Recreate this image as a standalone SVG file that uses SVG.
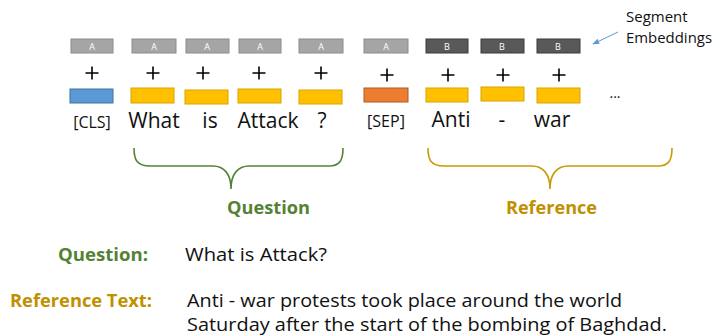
<svg xmlns="http://www.w3.org/2000/svg" width="713" height="335" viewBox="0 0 713 335">
<defs>
<style>
.segA{fill:#A5A5A5;stroke:#8C8C8C;stroke-width:1}
.segB{fill:#595959;stroke:#3A3A3A;stroke-width:1}
.segt{font-family:"Open Sans","DejaVu Sans",sans-serif;font-size:9px;fill:#fff;text-anchor:middle}
.plus{stroke:#000;stroke-width:1.6}
.tokY{fill:#FFC000;stroke:#D9A400;stroke-width:1}
.tokB{fill:#5B9BD5;stroke:#41719C;stroke-width:1}
.tokO{fill:#ED7D31;stroke:#AE5A21;stroke-width:1}
.lab{font-family:"Open Sans","DejaVu Sans",sans-serif;font-size:21px;fill:#111;text-anchor:middle}
.labs{font-family:"Open Sans","DejaVu Sans",sans-serif;font-size:16px;fill:#111;text-anchor:middle}
.brace{fill:none;stroke-width:1.6}
.head{font-family:"Open Sans","DejaVu Sans",sans-serif;font-weight:bold;font-size:18px}
.body{font-family:"Open Sans","DejaVu Sans",sans-serif;font-size:18px;fill:#111}
.note{font-family:"Open Sans","DejaVu Sans",sans-serif;font-size:15px;fill:#111}
</style>
<marker id="arr" viewBox="0 0 10 10" refX="9" refY="5" markerWidth="7" markerHeight="7" orient="auto-start-reverse">
<path d="M0,1 L10,5 L0,9 z" fill="#5B9BD5"/>
</marker>
</defs>
<rect width="713" height="335" fill="#fff"/>

<g id="tok-cls">
<rect class="segA" x="71" y="39" width="42" height="14"/><text class="segt" x="92" y="49.5">A</text>
<path class="plus" d="M85.5,73 H98.5 M92,66.5 V79.5"/>
<rect class="tokB" x="70" y="89" width="43" height="14"/>
<text class="labs" x="92" y="128">[CLS]</text>
</g>
<g id="tok-what">
<rect class="segA" x="132" y="39" width="44" height="14"/><text class="segt" x="154" y="49.5">A</text>
<path class="plus" d="M146.5,73 H159.5 M153,66.5 V79.5"/>
<rect class="tokY" x="131" y="88" width="43" height="15"/>
<text class="lab" x="154" y="128">What</text>
</g>
<g id="tok-is">
<rect class="segA" x="186" y="39" width="43" height="14"/><text class="segt" x="207" y="49.5">A</text>
<path class="plus" d="M196.5,73 H209.5 M203,66.5 V79.5"/>
<rect class="tokY" x="185" y="90" width="43" height="14"/>
<text class="lab" x="210" y="128">is</text>
</g>
<g id="tok-attack">
<rect class="segA" x="239" y="39" width="42" height="14"/><text class="segt" x="260" y="49.5">A</text>
<path class="plus" d="M252.5,73 H265.5 M259,66.5 V79.5"/>
<rect class="tokY" x="238" y="89" width="43" height="14"/>
<text class="lab" x="268" y="128">Attack</text>
</g>
<g id="tok-q">
<rect class="segA" x="299" y="39" width="44" height="14"/><text class="segt" x="321" y="49.5">A</text>
<path class="plus" d="M314.5,73 H327.5 M321,66.5 V79.5"/>
<rect class="tokY" x="299" y="90" width="43" height="14"/>
<text class="lab" x="322" y="128">?</text>
</g>
<g id="tok-sep">
<rect class="segA" x="364" y="39" width="44" height="14"/><text class="segt" x="386" y="49.5">A</text>
<path class="plus" d="M380.5,75 H393.5 M387,68.5 V81.5"/>
<rect class="tokO" x="364" y="88" width="44" height="14"/>
<text class="labs" x="386" y="127">[SEP]</text>
</g>
<g id="tok-anti">
<rect class="segB" x="426" y="39" width="42" height="14"/><text class="segt" x="447" y="49.5">B</text>
<path class="plus" d="M441.5,75 H454.5 M448,68.5 V81.5"/>
<rect class="tokY" x="426" y="88" width="42" height="14"/>
<text class="lab" x="451" y="127">Anti</text>
</g>
<g id="tok-dash">
<rect class="segB" x="481" y="39" width="43" height="14"/><text class="segt" x="502" y="49.5">B</text>
<path class="plus" d="M496.5,75 H509.5 M503,68.5 V81.5"/>
<rect class="tokY" x="481" y="87" width="43" height="14"/>
<text class="lab" x="502" y="127">-</text>
</g>
<g id="tok-war">
<rect class="segB" x="537" y="39" width="43" height="14"/><text class="segt" x="558" y="49.5">B</text>
<path class="plus" d="M552.5,75 H565.5 M559,68.5 V81.5"/>
<rect class="tokY" x="537" y="88" width="43" height="15"/>
<text class="lab" x="552" y="127">war</text>
</g>
<g id="ellipsis">
<text x="615" y="98" font-family="'Open Sans',sans-serif" font-size="14" fill="#111" text-anchor="middle">...</text>
</g>

<g id="seg-note">
<text class="note" x="626" y="22">Segment</text>
<text class="note" x="626" y="43" textLength="86" lengthAdjust="spacingAndGlyphs">Embeddings</text>
</g>

<g id="connectors">
<line x1="618" y1="32" x2="593" y2="44" stroke="#5B9BD5" stroke-width="1" marker-end="url(#arr)"/>
<path class="brace" stroke="#548235" d="M134,148 C134,160 137,166 150,166 H213 C224,166 231,174 231,189 C231,174 238,166 249,166 H329 C340,166 343,160 343,148"/>
<path class="brace" stroke="#C99A06" d="M428,148 C428,160 431,166 444,166 H532 C543,166 550,174 550,189 C550,174 557,166 568,166 H658 C669,166 672,160 672,148"/>
</g>

<g id="brace-labels">
<text class="head" x="227" y="214" fill="#548235" textLength="83" lengthAdjust="spacingAndGlyphs">Question</text>
<text class="head" x="506" y="214" fill="#BF9000" textLength="91" lengthAdjust="spacingAndGlyphs">Reference</text>
</g>

<g id="bottom">
<text class="head" x="58" y="261" fill="#548235" textLength="90" lengthAdjust="spacingAndGlyphs">Question:</text>
<text class="body" x="185" y="261" textLength="142" lengthAdjust="spacingAndGlyphs">What is Attack?</text>
<text class="head" x="10" y="307" fill="#BF9000" textLength="142" lengthAdjust="spacingAndGlyphs">Reference Text:</text>
<text class="body" x="187" y="307" textLength="435" lengthAdjust="spacingAndGlyphs">Anti - war protests took place around the world</text>
<text class="body" x="187" y="331" textLength="480" lengthAdjust="spacingAndGlyphs">Saturday after the start of the bombing of Baghdad.</text>
</g>
</svg>
